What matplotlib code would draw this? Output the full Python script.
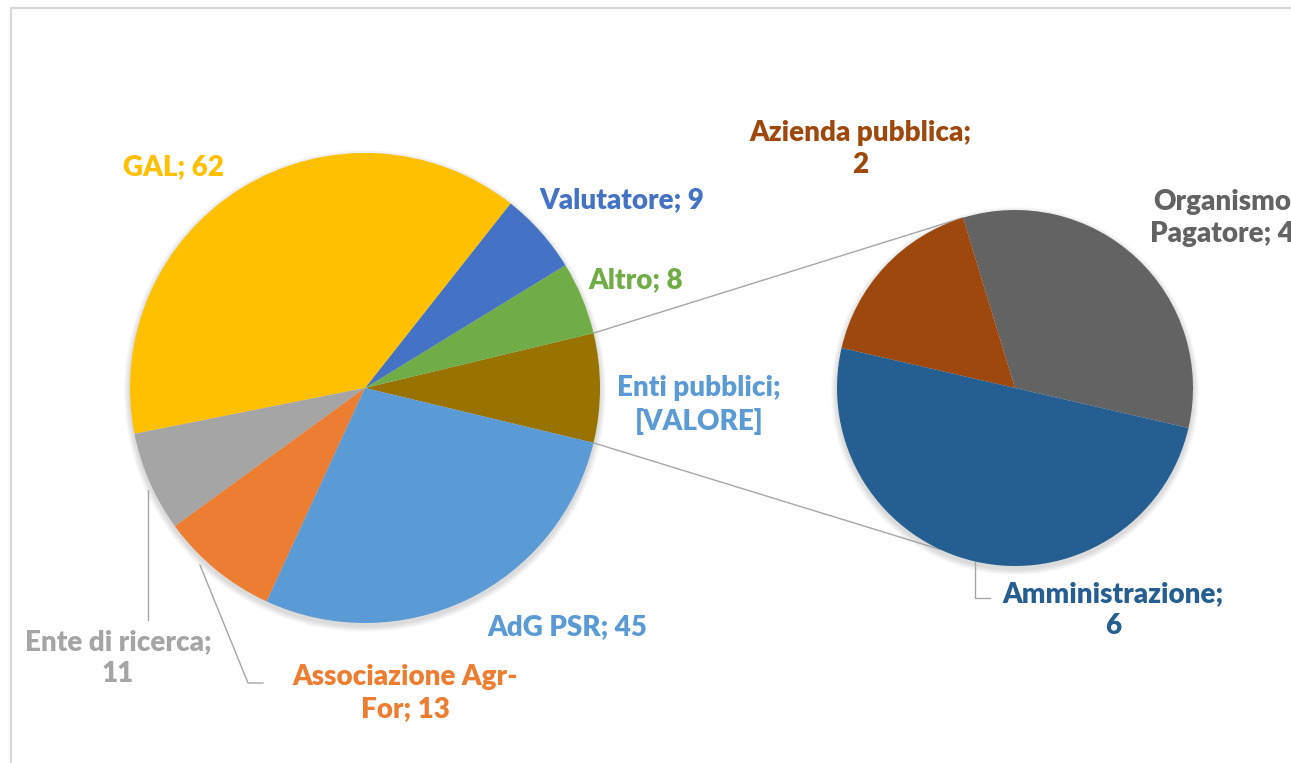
import matplotlib
matplotlib.use("Agg")
import matplotlib.pyplot as plt
import matplotlib.patches as mpatches
import numpy as np

### === Data ===
# pie principale (antiorario a partire dalla fetta "Enti pubblici")
main_labels = ["Enti pubblici", "Altro", "Valutatore", "GAL", "Ente di ricerca",
               "Associazione Agr-For", "AdG PSR"]
main_rest = [8, 9, 62, 11, 13, 45]
main_colors = ["#997300", "#70AD47", "#4472C4", "#FFC000", "#A5A5A5", "#ED7D31", "#5B9BD5"]

# pie secondaria (dettaglio Enti pubblici)
sub_labels = ["Organismo Pagatore", "Azienda pubblica", "Amministrazione"]
sub_values = [4, 2, 6]
sub_colors = ["#636363", "#9E480E", "#255E91"]

main_values = [sum(sub_values)] + main_rest

W, H = 1291, 763
plt.rcParams["font.family"] = ["Lato", "DejaVu Sans"]

fig = plt.figure(figsize=(W / 100, H / 100), dpi=100)
ax = fig.add_axes([0, 0, 1, 1])

c1, r1 = (365, H - 388), 235
c2, r2 = (1015, H - 388), 178

# ombra leggera
for c, r in [(c1, r1), (c2, r2)]:
    for k in range(6):
        ax.add_patch(mpatches.Circle((c[0], c[1] - 3), r + 1 + k, color="black",
                                     alpha=0.025, lw=0, zorder=1))

start1 = -360 * main_values[0] / sum(main_values) / 2
w1, _ = ax.pie(main_values, colors=main_colors, startangle=start1, center=c1,
               radius=r1, wedgeprops=dict(linewidth=0), frame=True)
w2, _ = ax.pie(sub_values, colors=sub_colors, startangle=-13, center=c2,
               radius=r2, wedgeprops=dict(linewidth=0), frame=True)
for w in w1 + w2:
    w.set_zorder(3)

# linee di collegamento
def pt(c, r, ang):
    return c[0] + r * np.cos(np.radians(ang)), c[1] + r * np.sin(np.radians(ang))

a_top, a_bot = w1[0].theta2, w1[0].theta1
p1, q1 = pt(c1, r1, a_top), pt(c2, r2, w2[1].theta1)
p2, q2 = pt(c1, r1, a_bot), pt(c2, r2, 245)
line_col = "#A6A6A6"
ax.plot([p1[0], q1[0]], [p1[1], q1[1]], color=line_col, lw=1, zorder=2)
ax.plot([p2[0], q2[0]], [p2[1], q2[1]], color=line_col, lw=1, zorder=2)

# etichette
fs = 20
def lab(x, y, txt, col):
    ax.text(x, H - y, txt, color=col, fontsize=fs, fontweight="heavy",
            ha="center", va="center", linespacing=1.3, zorder=5)

lab(173, 167, "GAL; 62", "#FFC000")
lab(622, 200, "Valutatore; 9", "#4472C4")
lab(636, 280, "Altro; 8", "#70AD47")
lab(699, 405, "Enti pubblici;\n[VALORE]", "#5B9BD5")
lab(567, 627, "AdG PSR; 45", "#5B9BD5")
lab(405, 693, "Associazione Agr-\nFor; 13", "#ED7D31")
lab(118, 658, "Ente di ricerca;\n11", "#A5A5A5")
lab(860, 149, "Azienda pubblica;\n2", "#9E480E")
lab(1222, 218, "Organismo\nPagatore; 4", "#636363")
lab(1113, 610, "Amministrazione;\n6", "#255E91")

# linee guida delle etichette
def leader(xs, ys):
    ax.plot(xs, [H - y for y in ys], color=line_col, lw=1, zorder=2)

leader([148, 148], [490, 620])
leader([200, 248, 263], [565, 683, 683])
leader([888, 888], [268, 312])
leader([975, 975, 990], [553, 598, 598])

# bordo grafico
ax.plot([11, 11, W + 5], [-5, H - 8, H - 8], color="#D9D9D9", lw=1.6, zorder=6,
        solid_joinstyle="miter")

ax.set_xlim(0, W)
ax.set_ylim(0, H)
ax.set_aspect("equal")
ax.set_axis_off()

fig.savefig("out.png", dpi=100, facecolor="white")
